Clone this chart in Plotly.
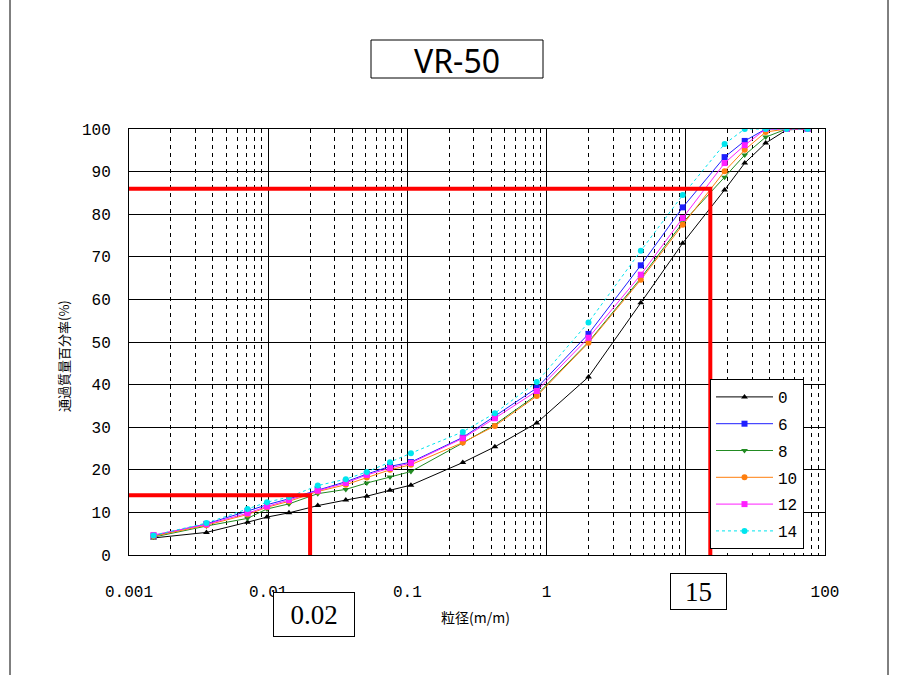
import plotly.graph_objects as go

# Particle size (mm) for sieve and hydrometer readings
diam = [0.0015, 0.0036, 0.0071, 0.0098, 0.0141, 0.0227, 0.0361, 0.0511, 0.075, 0.106,
        0.25, 0.425, 0.85, 2, 4.75, 9.5, 19, 26.5, 37.5, 53, 75]

# Percent passing for each series
pass_0 = [4.0, 5.3, 7.7, 8.9, 9.9, 11.6, 12.9, 13.8, 15.2, 16.4,
          21.7, 25.4, 31.0, 41.8, 59.2, 73.2, 85.7, 92.0, 96.7, 99.8, 100]
pass_6 = [4.5, 7.3, 10.3, 11.8, 13.2, 15.3, 17.2, 19.0, 20.8, 21.8,
          27.6, 32.6, 39.2, 51.9, 68.0, 81.6, 93.4, 97.2, 100, 100, 100]
pass_8 = [4.2, 6.8, 8.6, 10.8, 12.0, 14.4, 15.4, 16.9, 18.3, 19.6,
          26.3, 30.6, 37.6, 50.0, 65.0, 78.0, 88.7, 93.9, 98.1, 100, 100]
pass_10 = [4.4, 7.0, 9.5, 11.2, 12.6, 14.9, 16.5, 18.2, 20.0, 21.2,
           26.4, 30.3, 37.3, 49.8, 64.6, 77.5, 90.1, 95.1, 99.3, 100, 100]
pass_12 = [4.7, 7.2, 9.8, 11.4, 12.9, 15.1, 16.9, 18.8, 20.4, 21.6,
           27.4, 32.1, 38.5, 51.0, 65.8, 79.1, 92.0, 96.2, 100, 100, 100]
pass_14 = [4.6, 7.5, 10.8, 12.4, 13.6, 16.3, 17.8, 19.5, 21.8, 23.9,
           28.9, 33.3, 40.6, 54.6, 71.4, 84.5, 96.5, 100, 100, 100, 100]

series_names = ["0", "6", "8", "10", "12", "14"]
series_vals = [pass_0, pass_6, pass_8, pass_10, pass_12, pass_14]
series_colors = ["black", "#1f1fff", "#228b22", "#ff7f0e", "#ff1fff", "#00e5ee"]
series_symbols = ["triangle-up", "square", "triangle-down", "circle", "square", "circle"]
series_dash = ["solid", "solid", "solid", "solid", "solid", "dot"]

# Reference readings marked in red
d_fine, p_fine = 0.02, 14
d_coarse, p_coarse = 15, 86

title_text = "VR-50"
x_title = "粒径(m/m)"
y_title = "通過質量百分率(%)"
# the decade at 10 sits under the "15" callout, so it carries no label
x_tickvals = [0.001, 0.01, 0.1, 1, 10, 100]
x_ticktext = ["0.001", "0.01", "0.1", "1", "", "100"]
y_tickvals = list(range(0, 101, 10))

tick_font = dict(family="Liberation Mono", size=16, color="black")

fig = go.Figure()

for name, vals, col, sym, dash in zip(series_names, series_vals, series_colors,
                                      series_symbols, series_dash):
    fig.add_trace(go.Scatter(
        x=diam, y=vals, name=name, mode="lines+markers",
        line=dict(color=col, width=1, dash=dash),
        marker=dict(symbol=sym, size=6, color=col),
        legendgroup=name,
    ))

# Red guide lines to the two reference readings
for d, p in [(d_fine, p_fine), (d_coarse, p_coarse)]:
    fig.add_trace(go.Scatter(
        x=[0.001, d, d], y=[p, p, 0], mode="lines",
        line=dict(color="#ff0000", width=4), showlegend=False, hoverinfo="skip",
    ))

grid_dash = "4px,4px"
fig.update_xaxes(
    type="log", range=[-3, 2],
    tickvals=x_tickvals, ticktext=x_ticktext,
    showgrid=True, gridcolor="black", gridwidth=1,
    minor=dict(dtick="D1", showgrid=True, gridcolor="black", griddash=grid_dash,
               gridwidth=1, ticks=""),
    showline=True, mirror=True, linecolor="black", linewidth=1,
    ticks="", ticklabelstandoff=22,
    tickfont=tick_font,
    zeroline=False,
)
fig.update_yaxes(
    range=[0, 100], tickvals=y_tickvals,
    showgrid=True, gridcolor="black", gridwidth=1,
    showline=True, mirror=True, linecolor="black", linewidth=1,
    ticks="", ticklabelstandoff=14,
    tickfont=tick_font,
    zeroline=False,
)

W, H = 898, 675
ml, mr, mt, mb = 129, 73, 129, 120
pw, ph = W - ml - mr, H - mt - mb


def px_x(x):
    return (x - ml) / pw


def px_y(y):
    return (H - mb - y) / ph


shapes = [
    # title frame
    dict(type="rect", xref="paper", yref="paper",
         x0=px_x(371), x1=px_x(543), y0=px_y(78), y1=px_y(40),
         line=dict(color="black", width=1), fillcolor="white"),
    # page edges
    dict(type="line", xref="paper", yref="paper",
         x0=px_x(10), x1=px_x(10), y0=px_y(675), y1=px_y(0),
         line=dict(color="black", width=1)),
    dict(type="line", xref="paper", yref="paper",
         x0=px_x(888), x1=px_x(888), y0=px_y(675), y1=px_y(0),
         line=dict(color="black", width=1)),
]

centered = dict(xref="paper", yref="paper", xanchor="center", yanchor="middle",
                showarrow=False)
annotations = [
    dict(text=title_text, x=px_x(457), y=px_y(60),
         font=dict(family="Noto Sans", size=32, color="black"), **centered),
    dict(text=x_title, x=px_x(475), y=px_y(617),
         font=dict(family="Noto Sans CJK JP", size=14, color="black"), **centered),
    dict(text=y_title, x=px_x(63), y=px_y(356), textangle=-90,
         font=dict(family="Noto Sans CJK JP", size=13, color="black"), **centered),
    dict(text=str(d_fine), x=px_x(314), y=px_y(614.5),
         width=80, height=43, bgcolor="white",
         bordercolor="black", borderwidth=1, borderpad=0,
         font=dict(family="Liberation Serif", size=27, color="black"), **centered),
    dict(text=str(d_coarse), x=px_x(698.5), y=px_y(591.5),
         width=55, height=35, bgcolor="white",
         bordercolor="black", borderwidth=1, borderpad=0,
         font=dict(family="Liberation Serif", size=27, color="black"), **centered),
]

fig.update_layout(
    width=W, height=H,
    margin=dict(l=ml, r=mr, t=mt, b=mb),
    paper_bgcolor="white", plot_bgcolor="white",
    shapes=shapes, annotations=annotations,
    legend=dict(
        x=px_x(710), y=px_y(379), xanchor="left", yanchor="top",
        bgcolor="white", bordercolor="black", borderwidth=1,
        font=tick_font, itemwidth=57,
        tracegroupgap=3, traceorder="grouped",
    ),
    showlegend=True,
)

fig.write_html("out.html")
